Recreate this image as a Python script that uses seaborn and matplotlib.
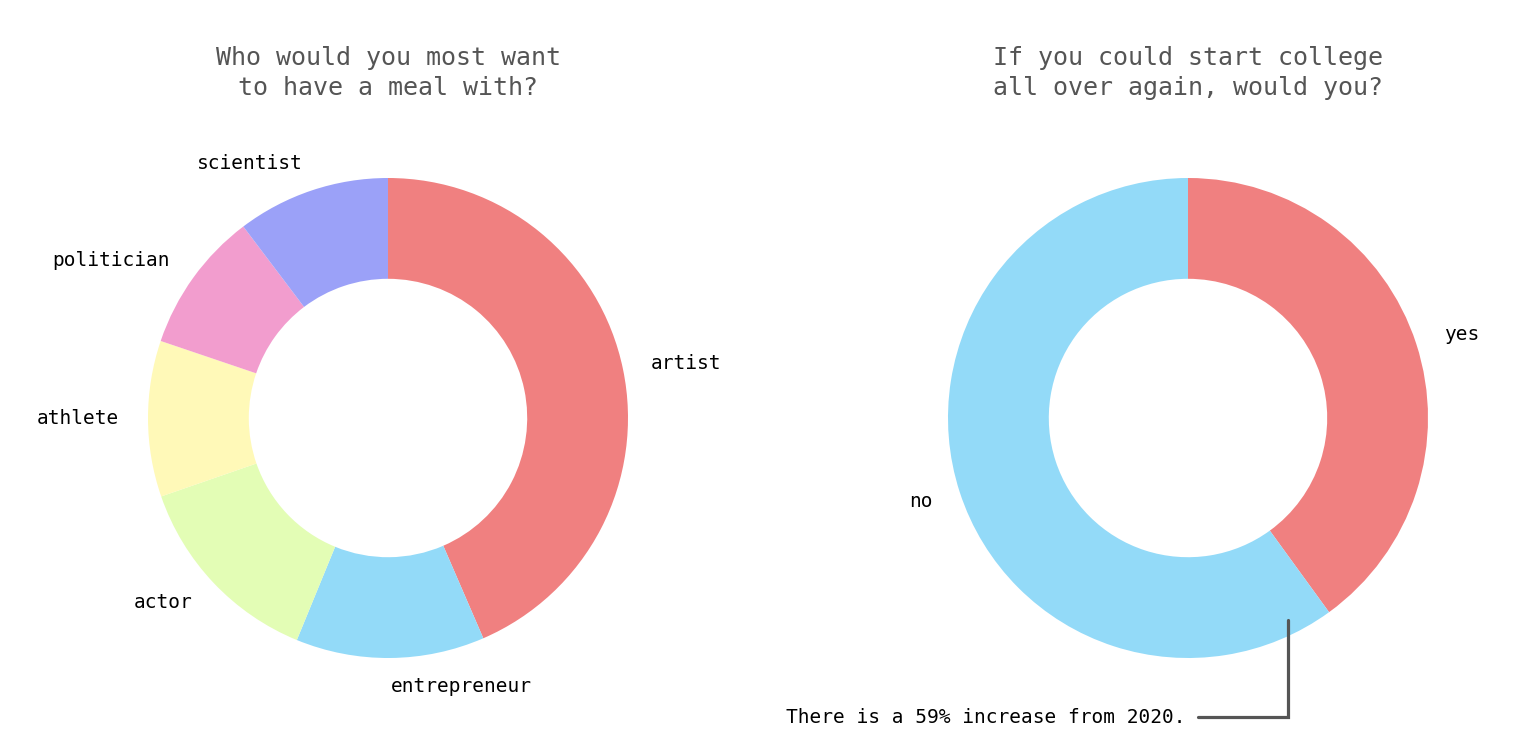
import matplotlib
matplotlib.use("Agg")
from matplotlib import pyplot as plt
import seaborn as sns

# meal question
mealLabels = ["artist", "entrepreneur", "actor", "athlete", "politician", "scientist"]
mealValues = [43.5, 12.7, 13.5, 10.5, 9.5, 10.3]
mealColors = ["#F08080", "#93DAF8", "#E3FDB5", "#FFF9B8", "#F29DCE", "#9BA1F8"]

# college question
collegeLabels = ["yes", "no"]
collegeValues = [40, 60]
collegeColors = ["#F08080", "#93DAF8"]

sns.set_theme(style="white")
plt.rcParams['font.family'] = ['DejaVu Sans Mono', 'DejaVu Sans']

W, H = 1516, 748
fig = plt.figure(figsize=(W / 100, H / 100), dpi=100)
fig.patch.set_facecolor("white")

R = 240


def donut(cx, cy, values, labels, colors, title):
    ax = fig.add_axes([(cx - R) / W, (H - cy - R) / H, 2 * R / W, 2 * R / H])
    ax.pie(values, labels=labels, colors=colors, startangle=90, counterclock=False,
           labeldistance=1.12, radius=1,
           wedgeprops=dict(width=0.42, edgecolor="none", linewidth=0),
           textprops=dict(fontsize=14, color="#000000"))
    ax.set_xlim(-1, 1)
    ax.set_ylim(-1, 1)
    ax.axis("off")
    fig.text(cx / W, 1 - 73 / H, title, ha="center", va="center", fontsize=18,
             color="#555555", linespacing=1.3)
    return ax


donut(388, 418, mealValues, mealLabels, mealColors,
      "Who would you most want\nto have a meal with?")
ax2 = donut(1188, 418, collegeValues, collegeLabels, collegeColors,
            "If you could start college\nall over again, would you?")

# callout
ax2.plot([0.417, 0.417, 0.042], [-0.842, -1.246, -1.246], color="#555555",
         lw=2.3, clip_on=False, solid_joinstyle="miter")
ax2.text(-0.012, -1.246, "There is a 59% increase from 2020.", ha="right", va="center",
         fontsize=14, color="#000000", clip_on=False)

plt.savefig("out.png", dpi=100)
